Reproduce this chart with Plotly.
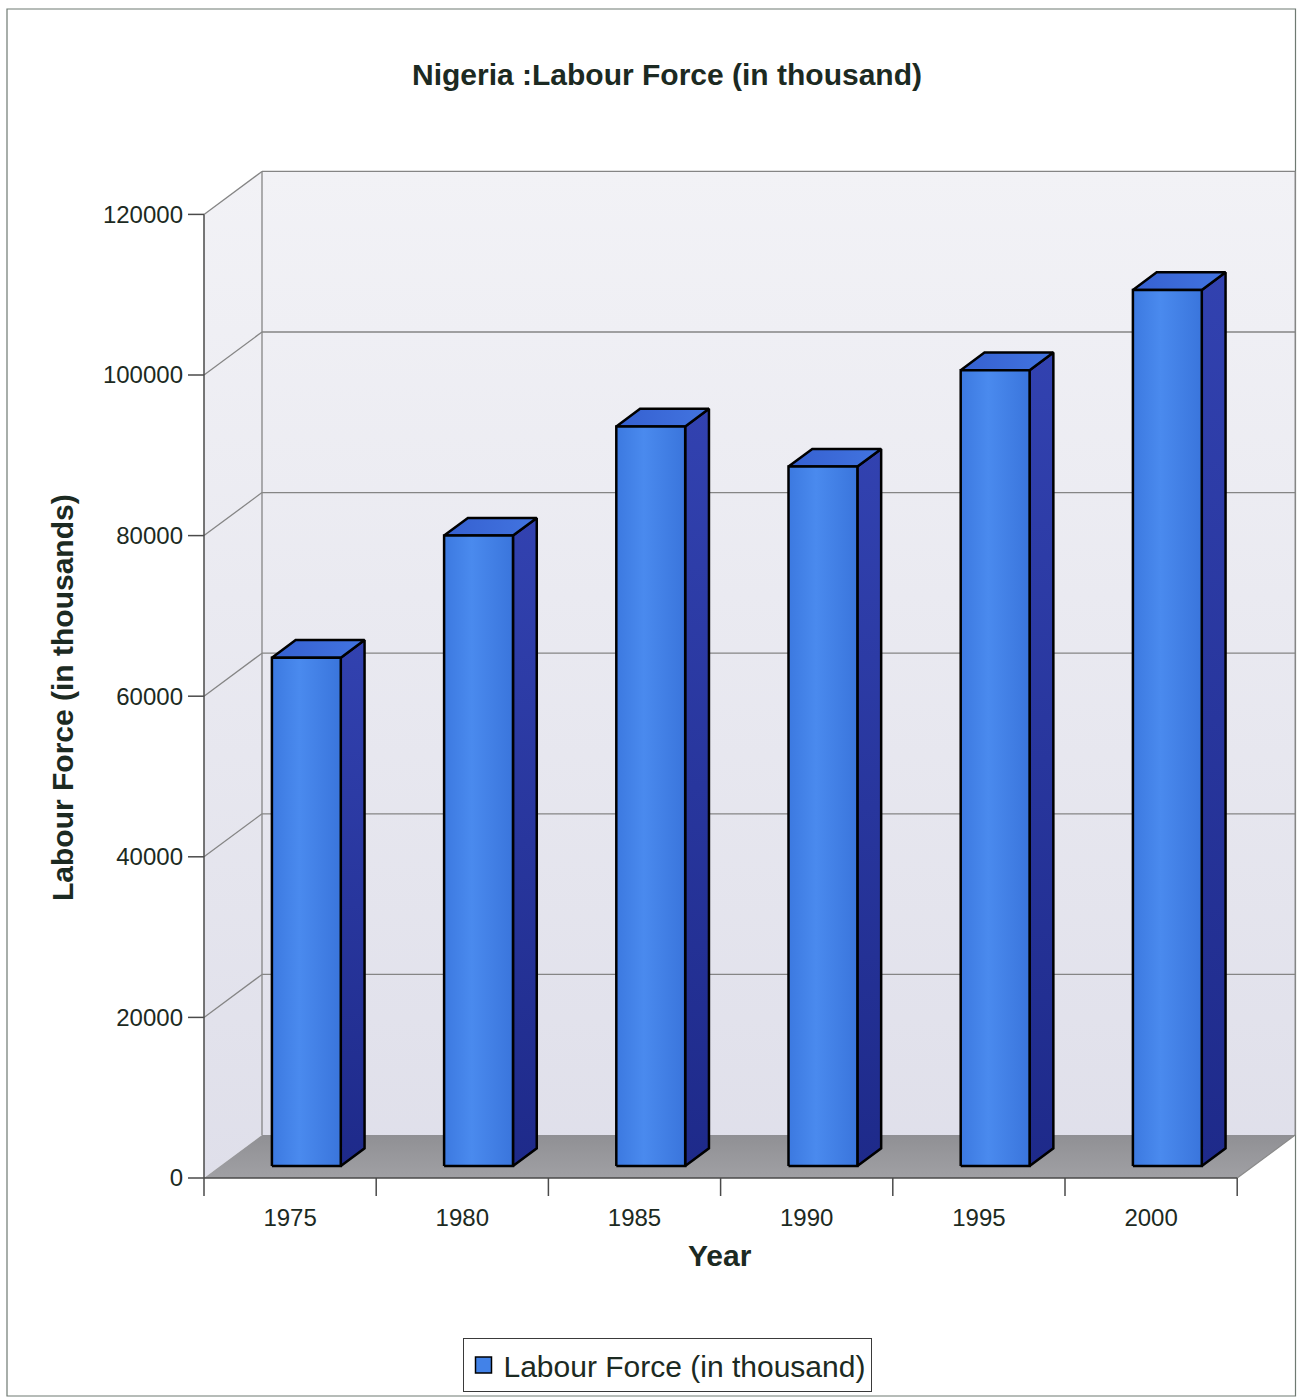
import plotly.graph_objects as go

# ---- data -------------------------------------------------------------
years = ["1975", "1980", "1985", "1990", "1995", "2000"]
labour_force = [63300, 78500, 92100, 87100, 99100, 109100]
y_tick_values = [0, 20000, 40000, 60000, 80000, 100000, 120000]

title_text = "Nigeria :Labour Force (in thousand)"
y_title = "Labour Force (in thousands)"
x_title = "Year"
series_name = "Labour Force (in thousand)"

# ---- page / projection geometry --------------------------------------
W, H = 1298, 1399
PX_CAT = 172.2            # pixels per category slot
PX_VAL = 8.03 / 1000      # pixels per value unit
ORIGIN_PX = (204, 1178)   # where (-0.5, 0) lands on the page
DEPTH_PX = (58, 43)       # oblique offset from the front plane to the back wall
DX = DEPTH_PX[0] / PX_CAT
DY = DEPTH_PX[1] / PX_VAL
Y_MAX = 120000
N = len(years)
X_LEFT, X_RIGHT = -0.5, N - 0.5

# bar placement inside the depth of the box
BAR_FRONT = 0.28          # fraction of depth where the bar front sits
BAR_DEPTH = 0.41          # fraction of depth the bar occupies
BAR_WIDTH = 0.40          # in category units

M_L, M_R, M_T, M_B = 188, 0, 168, 201
plot_w = W - M_L - M_R
plot_h = H - M_T - M_B
x_min = X_LEFT - (ORIGIN_PX[0] - M_L) / PX_CAT
x_max = x_min + plot_w / PX_CAT
y_min = -((H - M_B) - ORIGIN_PX[1]) / PX_VAL
y_max = y_min + plot_h / PX_VAL


def paper_x(px):
    return (px - M_L) / plot_w


def paper_y(py):
    return (H - M_B - py) / plot_h


FONT = "Liberation Sans, Arial, sans-serif"
TEXT = "#1c2a22"
GRID = "#858585"
AXIS = "#4a4a4a"

fig = go.Figure()


def poly(xs, ys, fill, line_color=None, line_width=0, gradient=None):
    tr = dict(
        x=list(xs) + [xs[0]], y=list(ys) + [ys[0]],
        mode="lines", fill="toself", fillcolor=fill,
        line=dict(color=line_color or "rgba(0,0,0,0)", width=line_width),
        hoverinfo="skip", showlegend=False,
    )
    if gradient is not None:
        tr["fillgradient"] = gradient
    fig.add_trace(go.Scatter(**tr))


def segments(pairs, color, width):
    xs, ys = [], []
    for (xa, ya), (xb, yb) in pairs:
        xs += [xa, xb, None]
        ys += [ya, yb, None]
    fig.add_trace(go.Scatter(x=xs, y=ys, mode="lines",
                             line=dict(color=color, width=width),
                             hoverinfo="skip", showlegend=False))


wall_grad = dict(type="vertical", start=0, stop=Y_MAX + DY,
                 colorscale=[[0, "#dfdfea"], [1, "#f2f2f6"]])

# side wall
poly([X_LEFT, X_LEFT + DX, X_LEFT + DX, X_LEFT],
     [0, DY, Y_MAX + DY, Y_MAX], "#e6e6ee", gradient=wall_grad)
# back wall
poly([X_LEFT + DX, X_RIGHT + DX, X_RIGHT + DX, X_LEFT + DX],
     [DY, DY, Y_MAX + DY, Y_MAX + DY], "#e6e6ee", gradient=wall_grad)

# gridlines on side and back walls
grid_pairs = []
for v in y_tick_values[1:]:
    grid_pairs.append(((X_LEFT, v), (X_LEFT + DX, v + DY)))
    grid_pairs.append(((X_LEFT + DX, v + DY), (X_RIGHT + DX, v + DY)))
grid_pairs.append(((X_LEFT + DX, DY), (X_LEFT + DX, Y_MAX + DY)))
grid_pairs.append(((X_RIGHT + DX, DY), (X_RIGHT + DX, Y_MAX + DY)))
segments(grid_pairs, GRID, 1.3)

# floor
poly([X_LEFT, X_RIGHT, X_RIGHT + DX, X_LEFT + DX],
     [0, 0, DY, DY], "#9b9b9f",
     gradient=dict(type="vertical", start=0, stop=DY,
                   colorscale=[[0, "#a0a0a4"], [1, "#909094"]]))
segments([((X_RIGHT, 0), (X_RIGHT + DX, DY))], "#8a8a8a", 1.2)

# axes: value axis edge, category axis edge and tick marks
tick_len_x = 16 / PX_CAT
tick_len_y = 18 / PX_VAL
axis_pairs = [((X_LEFT, 0), (X_LEFT, Y_MAX)), ((X_LEFT, 0), (X_RIGHT, 0))]
for v in y_tick_values:
    axis_pairs.append(((X_LEFT - tick_len_x, v), (X_LEFT, v)))
for k in range(N + 1):
    axis_pairs.append(((X_LEFT + k, 0), (X_LEFT + k, -tick_len_y)))
segments(axis_pairs, AXIS, 1.5)

# bars (side, top, front face for each column)
fx, fy = BAR_FRONT * DX, BAR_FRONT * DY
ddx, ddy = BAR_DEPTH * DX, BAR_DEPTH * DY
for i, v in enumerate(labour_force):
    xl = i + fx - BAR_WIDTH / 2
    xr = i + fx + BAR_WIDTH / 2
    b, t = fy, fy + v
    poly([xr, xr + ddx, xr + ddx, xr], [b, b + ddy, t + ddy, t],
         "#2a38a2", "#000000", 2.5,
         gradient=dict(type="vertical", start=b, stop=t + ddy,
                       colorscale=[[0, "#1e2a8a"], [1, "#3242b0"]]))
    poly([xl, xr, xr + ddx, xl + ddx], [t, t, t + ddy, t + ddy],
         "#3b68d8", "#000000", 2.5,
         gradient=dict(type="horizontal", start=xl, stop=xr + ddx,
                       colorscale=[[0, "#3560d0"], [1, "#4274e0"]]))
    poly([xl, xr, xr, xl], [b, b, t, t],
         "#4282e8", "#000000", 2.5,
         gradient=dict(type="horizontal", start=xl, stop=xr,
                       colorscale=[[0, "#3c79e0"], [0.4, "#4a8aee"],
                                   [1, "#3a75dc"]]))

# legend entry for the series
fig.add_trace(go.Scatter(
    x=[None], y=[None], mode="markers", name=series_name,
    marker=dict(symbol="square", size=16, color="#4282e8",
                line=dict(color="#000000", width=1.5)),
    showlegend=True,
))

fig.update_layout(
    width=W, height=H,
    margin=dict(l=M_L, r=M_R, t=M_T, b=M_B, pad=0),
    paper_bgcolor="white", plot_bgcolor="rgba(0,0,0,0)",
    font=dict(family=FONT, color=TEXT, size=24),
    title=dict(text="<b>" + title_text + "</b>", x=667 / W, xref="container",
               y=1 - 74 / H, yref="container", xanchor="center",
               yanchor="middle", font=dict(size=30, color=TEXT, family=FONT)),
    xaxis=dict(range=[x_min, x_max], showgrid=False, zeroline=False,
               showline=False, tickvals=list(range(N)), ticktext=years,
               ticks="", ticklabelstandoff=3,
               tickfont=dict(size=24, color=TEXT, family=FONT)),
    yaxis=dict(range=[y_min, y_max], showgrid=False, zeroline=False,
               showline=False, tickvals=y_tick_values,
               ticktext=[str(v) for v in y_tick_values], ticks="",
               ticklabelstandoff=4,
               tickfont=dict(size=24, color=TEXT, family=FONT)),
    showlegend=True,
    legend=dict(x=paper_x(667), y=paper_y(1338), xanchor="center",
                yanchor="top", orientation="h", bgcolor="white",
                bordercolor="#3a3a3a", borderwidth=1,
                font=dict(size=30, color=TEXT, family=FONT)),
    annotations=[
        dict(text="<b>" + y_title + "</b>", x=paper_x(62), y=paper_y(698),
             xref="paper", yref="paper", textangle=-90, showarrow=False,
             xanchor="center", yanchor="middle",
             font=dict(size=30, color=TEXT, family=FONT)),
        dict(text="<b>" + x_title + "</b>", x=paper_x(720), y=paper_y(1255),
             xref="paper", yref="paper", showarrow=False,
             xanchor="center", yanchor="middle",
             font=dict(size=30, color=TEXT, family=FONT)),
    ],
    shapes=[dict(type="rect", xref="paper", yref="paper",
                 x0=paper_x(7), x1=paper_x(1295.5),
                 y0=paper_y(1396), y1=paper_y(9),
                 line=dict(color="#6f7a72", width=1.2),
                 fillcolor="rgba(0,0,0,0)", layer="below")],
)

fig.write_html("out.html")
